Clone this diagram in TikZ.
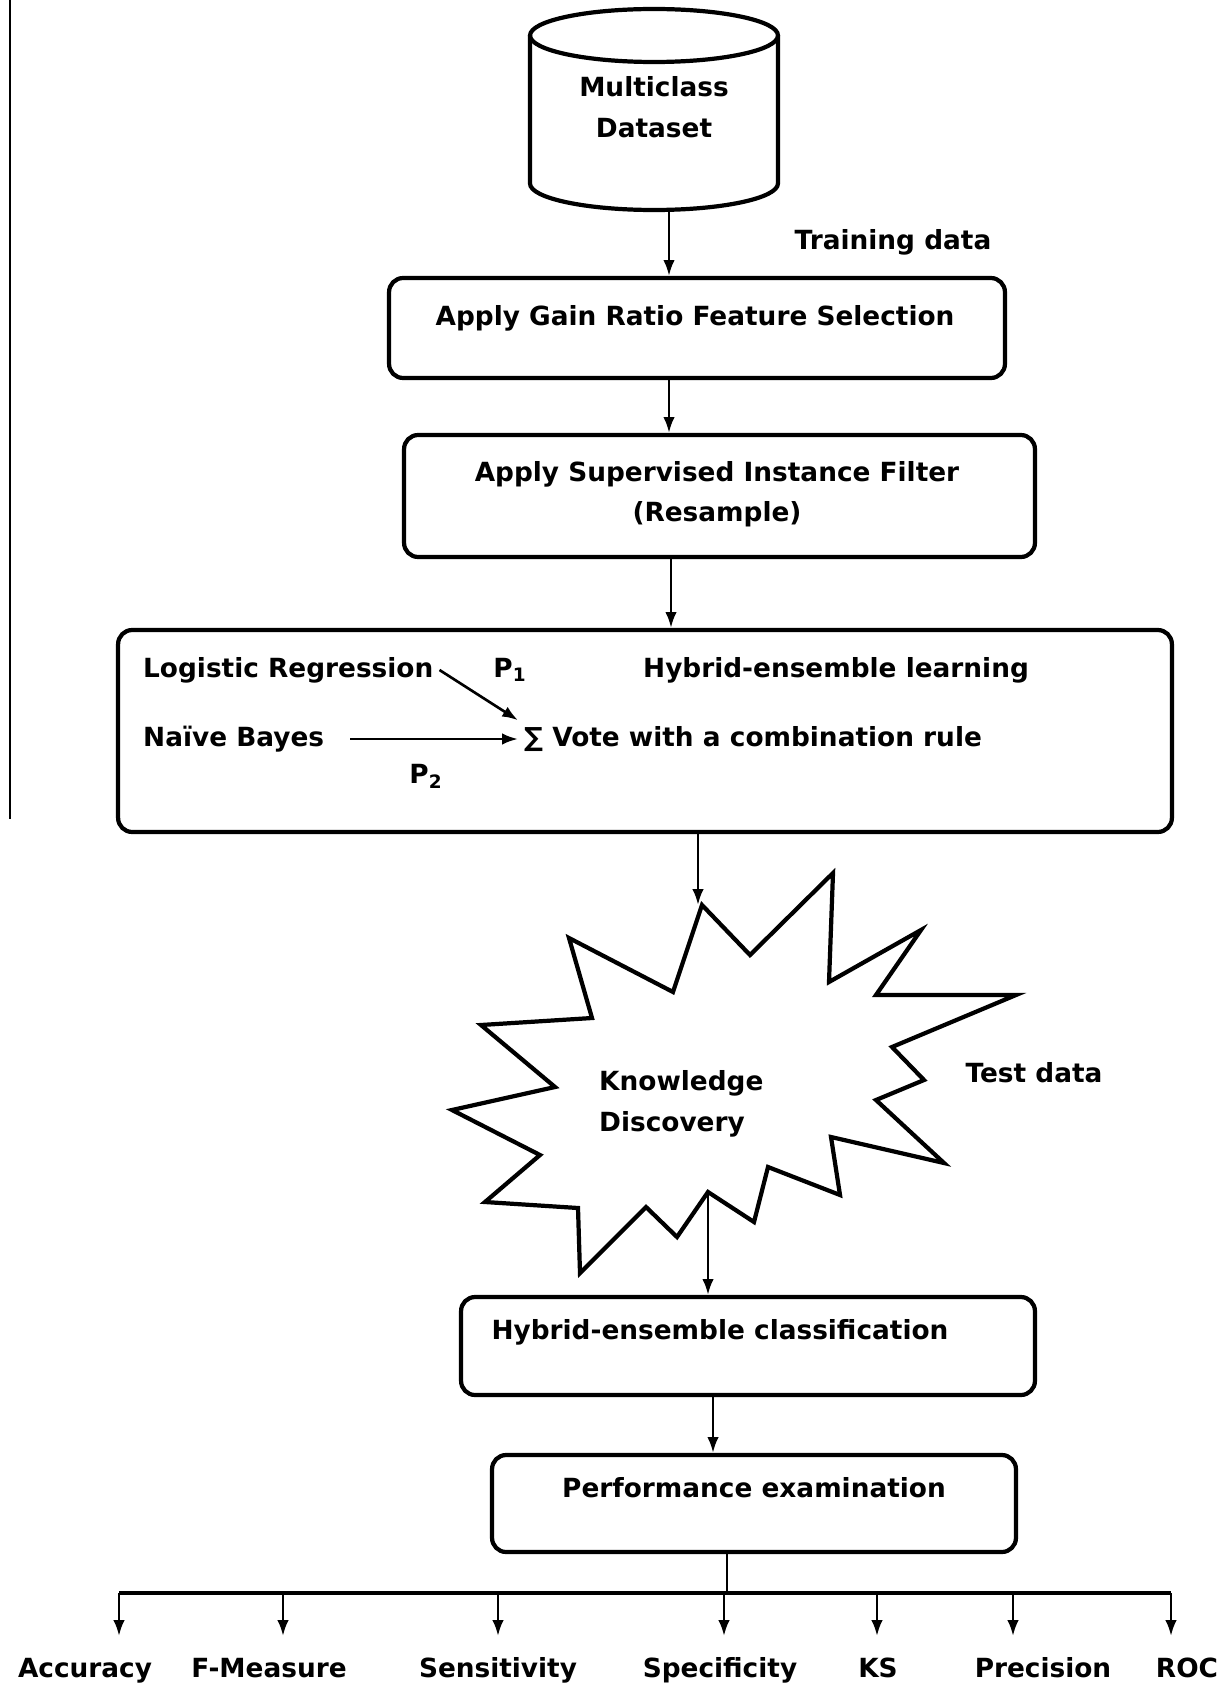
\documentclass[tikz,border=0pt]{standalone}
\usepackage{fontspec}
\setmainfont{DejaVu Sans}
\usetikzlibrary{positioning}
\usetikzlibrary{arrows.meta}

\begin{document}
\begin{tikzpicture}[
    x=0.02cm, y=-0.02cm,
    font=\fontsize{15}{19}\selectfont\bfseries,
    box/.style={draw, rectangle, rounded corners=8pt, line width=2.4pt},
    flow/.style={-{Latex[length=9pt,width=6.5pt]}, line width=1.5pt},
    >=stealth
]
\useasboundingbox (0,0) rectangle (1231,1686);

% side rule
\draw[line width=0.6pt] (10,0) -- (10,819);

% data source
\draw[line width=2.4pt] (654,35.5) ellipse [x radius=2.48cm, y radius=0.53cm];
\draw[line width=2.4pt] (530,35.5) -- (530,183.5)
    arc[start angle=180, end angle=360, x radius=2.48cm, y radius=0.53cm] -- (778,35.5);
\node[align=center] (data) at (654,107) {Multiclass\\[4pt]Dataset};
\coordinate (databot) at (669,210);
\node (train) at (893,242) {Training data};

% preprocessing
\node[box, minimum width=12.32cm, minimum height=2cm] (gain) at (697,328) {};
\node (gaintext) at (695,318) {Apply Gain Ratio Feature Selection};

\node[box, minimum width=12.62cm, minimum height=2.44cm] (resample) at (719.5,496) {};
\node[align=center] (resampletext) at (717,494) {Apply Supervised Instance Filter\\[4pt](Resample)};

% hybrid ensemble
\node[box, minimum width=21.08cm, minimum height=4.04cm] (learn) at (645,731) {};
\node[anchor=west] (lr) at (137,670) {Logistic Regression};
\node (p1) at (510,670) {P\textsubscript{1}};
\node[anchor=west] (hel) at (637,670) {Hybrid-ensemble learning};
\node[anchor=west] (nb) at (137,739) {Naïve Bayes};
\node[anchor=west] (vote) at (518,739) {∑ Vote with a combination rule};
\node (p2) at (426,776) {P\textsubscript{2}};
\draw[flow] (lr.east) -- (vote.north west);
\draw[flow] ([xshift=0.4cm]nb.east) -- (vote.west);

% knowledge discovery
\draw[line width=2.4pt, line join=miter] (702,905) -- (750,955) -- (833,873) -- (829,982)
    -- (921,930) -- (876,995) -- (1016,995) -- (892,1047) -- (924,1080)
    -- (876,1100) -- (944,1163) -- (831,1137) -- (840,1195) -- (768,1167)
    -- (754,1222) -- (708,1192) -- (677,1237) -- (646,1207) -- (580,1273)
    -- (578,1208) -- (485,1202) -- (540,1155) -- (452,1110) -- (555,1087)
    -- (481,1025) -- (592,1018) -- (569,938) -- (673,992) -- cycle;
\coordinate (startop) at (698,905);
\coordinate (starbot) at (708,1192);
\node[anchor=west, align=left] (kd) at (593,1104) {Knowledge\\[4pt]Discovery};
\node (test) at (1034,1073) {Test data};

% classification and evaluation
\node[box, minimum width=11.48cm, minimum height=1.96cm] (classify) at (748,1346) {};
\node (classifytext) at (720,1332) {Hybrid-ensemble classification};

\node[box, minimum width=10.48cm, minimum height=1.94cm] (perf) at (754,1503.5) {};
\node (perftext) at (754,1488) {Performance examination};

% flow arrows
\draw[flow] (databot) -- (databot |- gain.north);
\draw[flow] (gain.south -| databot) -- (resample.north -| databot);
\draw[flow] ([xshift=0.04cm]resample.south -| databot) -- ([xshift=0.04cm]learn.north -| databot);
\draw[flow] (learn.south -| startop) -- (startop);
\draw[flow] (starbot) -- (starbot |- classify.north);
\draw[flow] ([xshift=-0.7cm]classify.south) -- ([xshift=-0.7cm]classify.south |- perf.north);

% measures
\coordinate (bus) at (727,1593);
\coordinate (busleft) at (119,1593);
\coordinate (busright) at (1171,1593);
\draw[line width=1.5pt] (perf.south -| bus) -- (bus);
\draw[line width=2.4pt] (busleft) -- (busright);
\foreach \name/\txt/\lx/\ax in {acc/Accuracy/85/119, fm/F-Measure/269/283,
    sens/Sensitivity/498/498, spec/Specificity/720/724, ks/KS/878/877,
    prec/Precision/1043/1013, roc/ROC/1187/1171} {
  \node[anchor=base] (\name) at (\lx,1677) {\txt};
  \coordinate (\name-tip) at (\ax,1636);
  \draw[flow] (\name-tip |- bus) -- (\name-tip);
}

\end{tikzpicture}
\end{document}
